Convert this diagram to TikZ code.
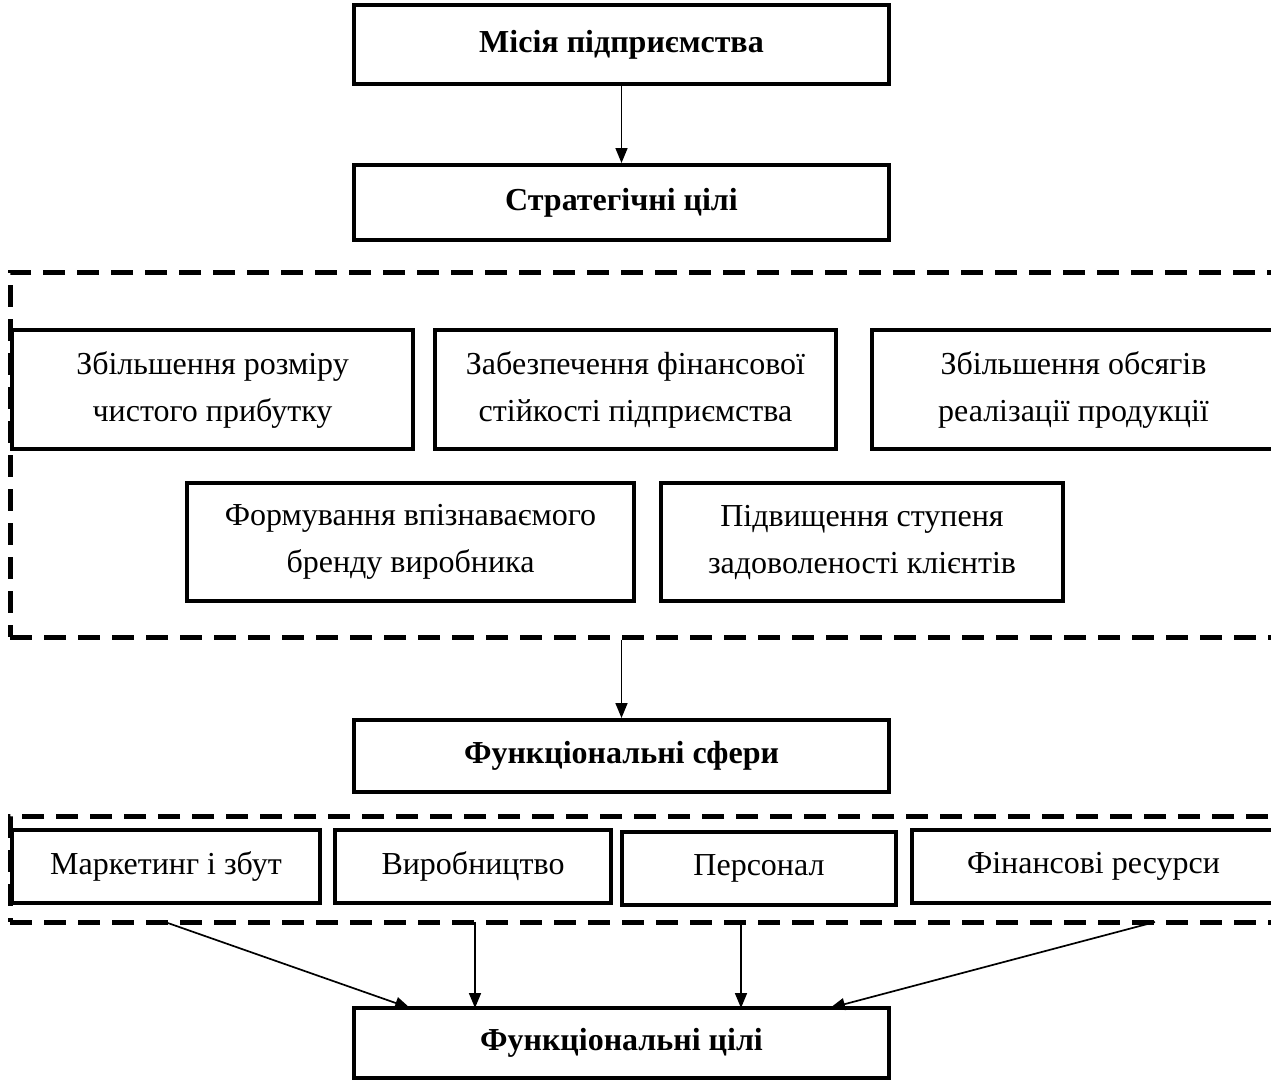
\documentclass[tikz,border=0pt]{standalone}
\usepackage{fontspec}
\setmainfont{Liberation Serif}
\usetikzlibrary{arrows.meta}
\begin{document}
\begin{tikzpicture}[x=1pt,y=-1pt,
  box/.style={draw,line width=4pt,rectangle,inner sep=0pt,align=center,
    font=\fontsize{32}{47}\selectfont},
  dashbox/.style={draw,line width=5pt,rectangle,inner sep=0pt,dash pattern=on 22pt off 12pt},
  arr/.style={line width=1.7pt,-{Triangle[length=15pt,width=12pt]}}]
\useasboundingbox (0,0) rectangle (1271,1081);
\clip (0,0) rectangle (1271,1081);
% dashed groups
\node[dashbox,minimum width=1290pt,minimum height=365pt] (d1) at (655,454.5) {};
\node[dashbox,minimum width=1290pt,minimum height=106pt] (d2) at (655,869) {};
% main boxes
\node[box,minimum width=535pt,minimum height=79pt] (mis) at (621.5,44.5) {\bfseries Місія підприємства};
\node[box,minimum width=535pt,minimum height=75pt] (str) at (621.5,202.5) {\bfseries Стратегічні цілі};
\node[box,minimum width=535pt,minimum height=72pt] (fs) at (621.5,756) {\bfseries Функціональні сфери};
\node[box,minimum width=535pt,minimum height=70pt] (fg) at (621.5,1043) {\bfseries Функціональні цілі};
% strategic goals
\node[box,minimum width=401pt,minimum height=119pt] (g1) at (212.5,389.5) {Збільшення розміру\\чистого прибутку};
\node[box,minimum width=401pt,minimum height=119pt] (g2) at (635.5,389.5) {Забезпечення фінансової\\стійкості підприємства};
\node[box,minimum width=403pt,minimum height=119pt] (g3) at (1073.5,389.5) {Збільшення обсягів\\реалізації продукції};
\node[box,minimum width=447pt,minimum height=118pt] (g4) at (410.5,542) {Формування впізнаваємого\\бренду виробника};
\node[box,minimum width=402pt,minimum height=118pt] (g5) at (862,542) {Підвищення ступеня\\задоволеності клієнтів};
% functional spheres
\node[box,minimum width=308pt,minimum height=73pt] (mk) at (166,866.5) {Маркетинг і збут};
\node[box,minimum width=276pt,minimum height=73pt] (vy) at (473,866.5) {Виробництво};
\node[box,minimum width=274pt,minimum height=73pt] (pe) at (759,868.5) {Персонал};
\node[box,minimum width=363pt,minimum height=73pt] (fi) at (1093.5,866.5) {Фінансові ресурси};
% connectors
\draw[arr] (mis.south) -- (str.north);
\draw[arr] (d1.south -| fs.north) -- (fs.north);
\coordinate (s1) at (165,922);
\coordinate (s2) at (475,922);
\coordinate (s3) at (741,922);
\coordinate (s4) at (1155,922);
\coordinate (e1) at (410,1008);
\coordinate (e2) at (475,1008);
\coordinate (e3) at (741,1008);
\coordinate (e4) at (830,1008);
\draw[arr] (s1) -- (e1);
\draw[arr] (s2) -- (e2);
\draw[arr] (s3) -- (e3);
\draw[arr] (s4) -- (e4);
\end{tikzpicture}
\end{document}
